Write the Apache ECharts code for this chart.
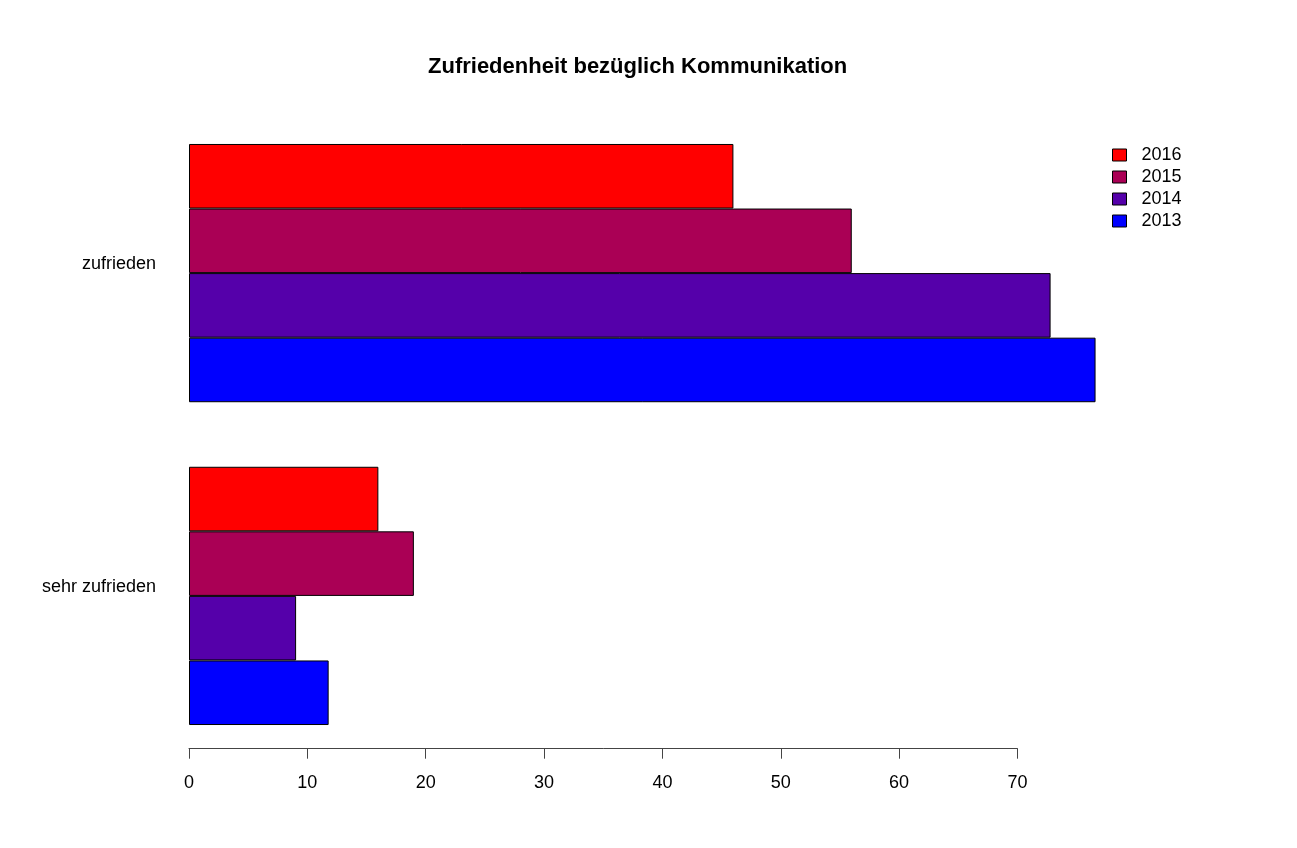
<!DOCTYPE html>
<html>
<head>
<meta charset="utf-8">
<script src="https://cdn.jsdelivr.net/npm/echarts@6/dist/echarts.min.js"></script>
<style>
html,body{margin:0;padding:0;background:#fff;}
#c{width:1297px;height:848px;}
</style>
</head>
<body>
<div id="c"></div>
<script>
// Data
const categories = ['sehr zufrieden', 'zufrieden'];
const years = ['2016', '2015', '2014', '2013'];
const v2013 = [11.8, 76.6];
const v2014 = [9.05, 72.8];
const v2015 = [19, 56];
const v2016 = [16, 46];
const xTicks = [0, 10, 20, 30, 40, 50, 60, 70];
const colors = {'2013':'#0000FF','2014':'#5500AA','2015':'#AA0055','2016':'#FF0000'};
const values = {'2013':v2013,'2014':v2014,'2015':v2015,'2016':v2016};

const font = 'Liberation Sans, Arial, Helvetica, sans-serif';
const chart = echarts.init(document.getElementById('c'), null, {renderer:'canvas'});
const pxPerUnit = 11.835;

chart.setOption({
  backgroundColor: '#ffffff',
  animation: false,
  title: {
    text: 'Zufriedenheit bezüglich Kommunikation',
    left: 428, top: 56, padding: 0,
    textStyle: {fontFamily: font, fontSize: 22, fontWeight: 'bold', color: '#000'}
  },
  legend: {
    orient: 'vertical',
    left: 1112, top: 146,
    data: ['2016','2015','2014','2013'],
    itemWidth: 14, itemHeight: 12, itemGap: 4,
    padding: 0,
    icon: 'rect',
    textStyle: {fontFamily: font, fontSize: 18, color: '#000', padding: [0,0,0,10]},
    itemStyle: {borderColor: '#000', borderWidth: 1}
  },
  grid: [
    {left: 189, width: 80 * pxPerUnit, top: 111.7, height: 645.6},
    {left: 189, width: 70 * pxPerUnit, top: 700, height: 48.7}
  ],
  xAxis: [
    {gridIndex: 0, type: 'value', min: 0, max: 80, show: false},
    {gridIndex: 1, type: 'value', min: 0, max: 70, interval: 10,
      axisLine: {show: true, lineStyle: {color: '#444', width: 1}},
      axisTick: {show: true, length: 10, lineStyle: {color: '#444', width: 1}},
      splitLine: {show: false},
      axisLabel: {fontFamily: font, fontSize: 18, color: '#000', margin: 25,
        customValues: xTicks}
    }
  ],
  yAxis: [
    {gridIndex: 0, type: 'category', data: categories,
      axisLine: {show: false}, axisTick: {show: false},
      axisLabel: {fontFamily: font, fontSize: 18, color: '#000', margin: 33,
        verticalAlign: 'bottom', lineHeight: 18}
    },
    {gridIndex: 1, type: 'value', show: false}
  ],
  series: years.map(y => ({
    name: y,
    type: 'bar',
    xAxisIndex: 0, yAxisIndex: 0,
    data: values[y],
    barGap: '0%',
    barCategoryGap: '20%',
    itemStyle: {color: colors[y], borderColor: '#000', borderWidth: 1}
  }))
});
</script>
</body>
</html>
